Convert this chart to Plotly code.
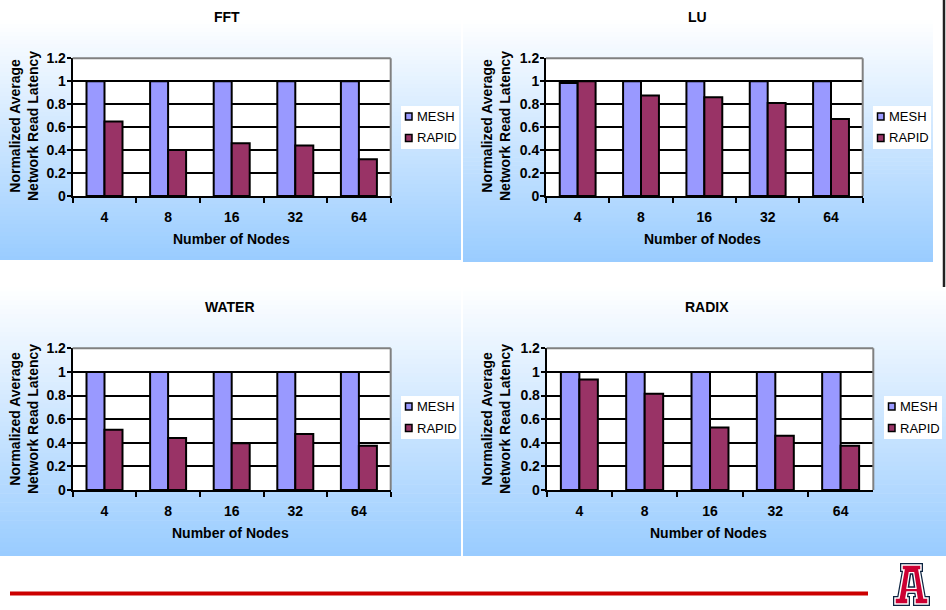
import plotly.graph_objects as go

# ---- data -------------------------------------------------------------
nodes = ["4", "8", "16", "32", "64"]

mesh_fft = [1, 1, 1, 1, 1]
rapid_fft = [0.65, 0.40, 0.46, 0.44, 0.32]

mesh_lu = [0.985, 1, 1, 1, 1]
rapid_lu = [1.0, 0.875, 0.86, 0.81, 0.67]

mesh_water = [1, 1, 1, 1, 1]
rapid_water = [0.51, 0.44, 0.395, 0.475, 0.375]

mesh_radix = [1, 1, 1, 1, 1]
rapid_radix = [0.935, 0.815, 0.53, 0.46, 0.375]

benchmarks = ["FFT", "LU", "WATER", "RADIX"]
series_names = ["MESH", "RAPID"]
y_ticks = [0, 0.2, 0.4, 0.6, 0.8, 1, 1.2]
y_tick_labels = ["0", "0.2", "0.4", "0.6", "0.8", "1", "1.2"]
x_title = "Number of Nodes"
y_title = "Normalized Average<br>Network Read Latency"

# ---- styling ----------------------------------------------------------
W, H = 946, 610
FONT = "Liberation Sans, Arial, sans-serif"
MESH_COLOR = "#9999FF"
RAPID_COLOR = "#993366"
GRAD_TOP = (255, 255, 255)
GRAD_BOTTOM = (153, 204, 255)
LINE_W = 2


def fx(x):
    return x / W


def fy(y):
    return 1 - y / H


# pixel layout of each panel
panels = [
    dict(plot=(72.7, 390.7, 58.3, 196.0), bg=(0, 461, 20, 260),
         title=(227, 17), xt=(231, 239), yt=(24, 126), leg=(401, 106)),
    dict(plot=(546.0, 862.7, 58.3, 196.0), bg=(463, 933, 20, 262),
         title=(697, 17), xt=(702, 239), yt=(496, 126), leg=(873, 106)),
    dict(plot=(72.7, 390.7, 348.3, 490.0), bg=(0, 461, 287, 556),
         title=(230, 307), xt=(230, 533), yt=(24, 419), leg=(401, 396)),
    dict(plot=(546.7, 873.3, 348.3, 490.0), bg=(463, 946, 287, 556),
         title=(707, 307), xt=(708, 533), yt=(496, 419), leg=(884, 396)),
]

series = [
    (mesh_fft, rapid_fft),
    (mesh_lu, rapid_lu),
    (mesh_water, rapid_water),
    (mesh_radix, rapid_radix),
]

fig = go.Figure()
shapes = []
annotations = []
layout_axes = {}

bold = dict(family=FONT, size=14, color="black", weight="bold")

# gradient panel backgrounds
N_BANDS = 60
for p in panels:
    x0, x1, y0, y1 = p["bg"]
    step = (y1 - y0) / N_BANDS
    for k in range(N_BANDS):
        t = (k + 0.5) / N_BANDS
        c = tuple(round(GRAD_TOP[j] + (GRAD_BOTTOM[j] - GRAD_TOP[j]) * t) for j in range(3))
        top = y0 + k * step
        bot = min(y1, top + step + 0.6)
        shapes.append(dict(type="rect", xref="paper", yref="paper", layer="below",
                           x0=fx(x0), x1=fx(x1), y0=fy(bot), y1=fy(top),
                           fillcolor="rgb(%d,%d,%d)" % c, line=dict(width=0)))

for i, (p, (mesh, rapid), name) in enumerate(zip(panels, series, benchmarks)):
    sfx = "" if i == 0 else str(i + 1)
    xa, ya = "x" + sfx, "y" + sfx
    L, R, T, B = p["plot"]

    fig.add_trace(go.Bar(x=nodes, y=mesh, name=series_names[0], xaxis=xa, yaxis=ya,
                         marker=dict(color=MESH_COLOR, line=dict(color="black", width=LINE_W)),
                         showlegend=False))
    fig.add_trace(go.Bar(x=nodes, y=rapid, name=series_names[1], xaxis=xa, yaxis=ya,
                         marker=dict(color=RAPID_COLOR, line=dict(color="black", width=LINE_W)),
                         showlegend=False))

    layout_axes["xaxis" + sfx] = dict(
        domain=[fx(L), fx(R)], anchor=ya, type="category", automargin=False,
        showline=True, linecolor="black", linewidth=LINE_W,
        ticks="outside", tickson="boundaries", ticklen=5, tickwidth=LINE_W, tickcolor="black",
        ticklabelstandoff=7,
        showgrid=False, zeroline=False, tickfont=bold, fixedrange=True,
    )
    layout_axes["yaxis" + sfx] = dict(
        domain=[fy(B), fy(T)], anchor=xa, range=[0, 1.2], automargin=False,
        tickvals=y_ticks, ticktext=y_tick_labels,
        showline=True, linecolor="black", linewidth=LINE_W,
        ticks="outside", ticklen=4, tickwidth=LINE_W, tickcolor="black",
        ticklabelstandoff=-2,
        showgrid=True, gridcolor="black", gridwidth=LINE_W, zeroline=False,
        tickfont=bold, fixedrange=True,
    )

    # white plotting area and its grey top/right frame
    shapes.append(dict(type="rect", xref="paper", yref="paper", layer="below",
                       x0=fx(L), x1=fx(R), y0=fy(B), y1=fy(T),
                       fillcolor="white", line=dict(width=0)))
    shapes.append(dict(type="line", xref="paper", yref="paper", layer="above",
                       x0=fx(L), x1=fx(R), y0=fy(T), y1=fy(T),
                       line=dict(color="#808080", width=LINE_W)))
    shapes.append(dict(type="line", xref="paper", yref="paper", layer="above",
                       x0=fx(R), x1=fx(R), y0=fy(B), y1=fy(T),
                       line=dict(color="#808080", width=LINE_W)))

    # titles
    annotations.append(dict(text=name, x=fx(p["title"][0]), y=fy(p["title"][1]),
                            xref="paper", yref="paper", showarrow=False,
                            xanchor="center", yanchor="middle", font=bold))
    annotations.append(dict(text=x_title, x=fx(p["xt"][0]), y=fy(p["xt"][1]),
                            xref="paper", yref="paper", showarrow=False,
                            xanchor="center", yanchor="middle", font=bold))
    annotations.append(dict(text=y_title, x=fx(p["yt"][0]), y=fy(p["yt"][1]),
                            xref="paper", yref="paper", showarrow=False, textangle=-90,
                            xanchor="center", yanchor="middle", font=bold))

    # legend box
    lx, ly = p["leg"]
    shapes.append(dict(type="rect", xref="paper", yref="paper", layer="above",
                       x0=fx(lx), x1=fx(lx + 58), y0=fy(ly + 43), y1=fy(ly),
                       fillcolor="white", line=dict(width=0)))
    for j, (label, col) in enumerate(zip(series_names, [MESH_COLOR, RAPID_COLOR])):
        cy = ly + 10.5 + j * 21.5
        shapes.append(dict(type="rect", xref="paper", yref="paper", layer="above",
                           x0=fx(lx + 4.5), x1=fx(lx + 11), y0=fy(cy + 3.5), y1=fy(cy - 3.5),
                           fillcolor=col, line=dict(color="black", width=1.5)))
        annotations.append(dict(text=label, x=fx(lx + 14), y=fy(cy),
                                xref="paper", yref="paper", showarrow=False,
                                xanchor="left", yanchor="middle",
                                font=dict(family=FONT, size=13, color="black")))

# thin dark edge on the right of the upper half
shapes.append(dict(type="line", xref="paper", yref="paper", layer="above",
                   x0=fx(944), x1=fx(944), y0=fy(287), y1=fy(0),
                   line=dict(color="#222222", width=2.5)))

# red footer rule
shapes.append(dict(type="line", xref="paper", yref="paper", layer="above",
                   x0=fx(10), x1=fx(868), y0=fy(593.5), y1=fy(593.5),
                   line=dict(color="#CC0000", width=4)))

# block "A" emblem
ox, oy = 893, 563
a_outline = [(9, 2), (28, 2), (28, 7), (26, 7), (31, 35), (35, 35), (35, 41), (22, 41),
             (22, 35), (24, 35), (23, 29), (14, 29), (13, 35), (15, 35), (15, 41),
             (2, 41), (2, 35), (6, 35), (11, 7), (9, 7)]
a_hole = [(17.5, 11), (19.5, 11), (21.5, 24), (15.5, 24)]


def to_path(pts):
    return "M " + " L ".join("%.5f,%.5f" % (fx(ox + a), fy(oy + b)) for a, b in pts) + " Z"


shapes.append(dict(type="path", xref="paper", yref="paper", layer="above",
                   path=to_path(a_outline), fillcolor="#0C2340",
                   line=dict(color="#0C2340", width=4)))
shapes.append(dict(type="path", xref="paper", yref="paper", layer="above",
                   path=to_path(a_outline), fillcolor="#CC0033",
                   line=dict(color="white", width=1.5)))
shapes.append(dict(type="path", xref="paper", yref="paper", layer="above",
                   path=to_path(a_hole), fillcolor="white",
                   line=dict(color="white", width=4)))
shapes.append(dict(type="path", xref="paper", yref="paper", layer="above",
                   path=to_path(a_hole), fillcolor="white",
                   line=dict(color="#0C2340", width=1.5)))

fig.update_layout(
    width=W, height=H,
    margin=dict(l=0, r=0, t=0, b=0, pad=0, autoexpand=False),
    paper_bgcolor="white",
    plot_bgcolor="rgba(0,0,0,0)",
    barmode="group", bargap=0.434, bargroupgap=0,
    showlegend=False,
    font=dict(family=FONT, color="black"),
    shapes=shapes,
    annotations=annotations,
    **layout_axes,
)

fig.write_html("out.html", config=dict(displayModeBar=False))
